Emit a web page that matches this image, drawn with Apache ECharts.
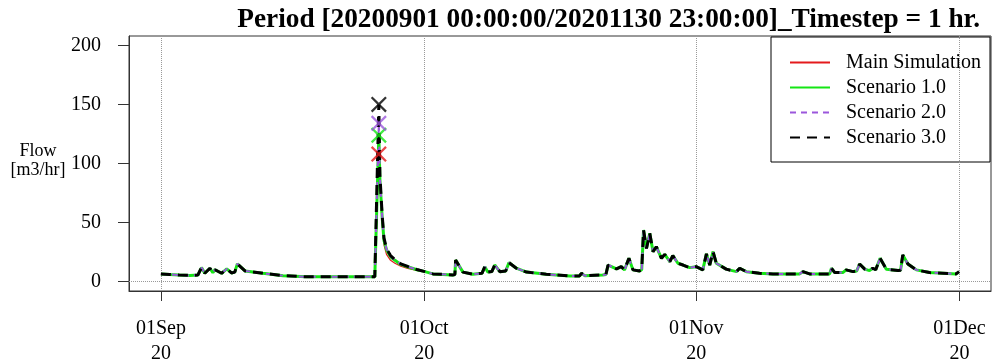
<!DOCTYPE html>
<html>
<head>
<meta charset="utf-8">
<script src="https://cdn.jsdelivr.net/npm/echarts@6/dist/echarts.min.js"></script>
<style>
  html, body { margin: 0; padding: 0; background: #fff; }
  #flow { width: 993px; height: 360px; }
</style>
</head>
<body>
<div id="flow"></div>
<script>
// hours since 01Sep2020 00:00 -> flow [m3/hr], shared by all runs outside the big event
var baseHours = [0, 24, 50, 79, 101, 111, 120, 134, 142, 148, 166, 180, 193, 202, 209, 230, 279, 334, 398, 489, 585,
    722, 744, 798, 804, 806, 826, 853, 878, 886, 894, 905, 913, 927, 943, 952, 972, 1000, 1054, 1118, 1145, 1150, 1159,
    1208, 1217, 1223, 1246, 1259, 1268, 1280, 1291, 1309, 1315, 1320, 1328, 1337, 1346, 1355, 1369, 1378, 1392, 1400,
    1414, 1428, 1446, 1464, 1482, 1487, 1492, 1501, 1510, 1519, 1546, 1574, 1583, 1601, 1637, 1674, 1747, 1756, 1774,
    1829, 1834, 1843, 1865, 1874, 1893, 1903, 1911, 1925, 1938, 1947, 1955, 1967, 1984, 2016, 2023, 2029, 2043, 2066,
    2102, 2175, 2183];
var baseFlow = [6.5, 6, 5.5, 5.2, 5.5, 11.8, 7, 11.3, 7.5, 10, 7, 10.7, 7.3, 8, 15, 9, 7, 5, 4, 4, 4,
    8.4, 6.5, 5.6, 6, 18.3, 8, 6.2, 7, 12.6, 8, 8.5, 14, 8.4, 9, 16, 11.3, 8, 6.2, 4.8, 4.8, 7, 5,
    5.6, 6, 14, 10.7, 12.6, 9.9, 19.7, 9.9, 9, 10, 43.6, 28, 40.8, 25.3, 29.5, 19.7, 23, 16.9, 22,
    15.5, 14, 11.8, 12.6, 9.9, 11, 23.4, 14, 25.3, 15.5, 10.5, 8.4, 11.3, 8.4, 7, 6.5, 6.5, 8.4, 6.5,
    6.5, 11.3, 7.6, 7.6, 9.9, 8.4, 9, 14.9, 10.5, 9.3, 11.3, 10, 19.7, 10.5, 9.3, 9.5, 22.5, 14.9, 9.9,
    7.6, 6.5, 8.4];

// the late-September event, where the runs differ
var eventHours = [590, 596, 599, 605, 610, 617, 628, 640, 656, 675, 700];
var eventMain = [5, 108, 80, 50, 31, 23, 18, 15.5, 13, 11.2, 9.5];
var eventS1 = [5, 124, 86, 55, 35, 27, 21, 18, 14.5, 12.5, 10];
var eventS2 = [5, 134, 88, 56, 36, 27.5, 21.5, 18.3, 14.8, 12.6, 10];
var eventS3 = [5, 150, 90, 57, 37, 28, 22, 18.5, 15, 12.8, 10.2];

var seriesNames = ['Main Simulation', 'Scenario 1.0', 'Scenario 2.0', 'Scenario 3.0'];
var yTicks = [0, 50, 100, 150, 200];
var xTickHours = [0, 720, 1464, 2184];
var xTickLabels = ['01Sep\n20', '01Oct\n20', '01Nov\n20', '01Dec\n20'];
var titleText = 'Period [20200901 00:00:00/20201130 23:00:00]_Timestep = 1 hr.';

var serif = 'Liberation Serif';
var crossPath = 'path://M0,1L1,0L5,4L9,0L10,1L6,5L10,9L9,10L5,6L1,10L0,9L4,5Z';

function build(eventVals) {
    var pts = [];
    for (var i = 0; i < baseHours.length; i++) pts.push([baseHours[i], baseFlow[i]]);
    for (var j = 0; j < eventHours.length; j++) pts.push([eventHours[j], eventVals[j]]);
    pts.sort(function (a, b) { return a[0] - b[0]; });
    return pts;
}

function peakOf(pts) {
    var best = pts[0];
    for (var i = 1; i < pts.length; i++) if (pts[i][1] > best[1]) best = pts[i];
    return best;
}

var runs = [
    {data: build(eventMain), color: '#e41a1c', width: 1.2, type: 'solid'},
    {data: build(eventS1), color: '#14e614', width: 3, type: 'solid'},
    {data: build(eventS2), color: '#9b57dc', width: 2, type: [6, 5]},
    {data: build(eventS3), color: '#000000', width: 3, type: [10, 7]}
];

var flowChart = echarts.init(document.getElementById('flow'));

var series = [];
runs.forEach(function (r, k) {
    series.push({
        name: seriesNames[k],
        type: 'line',
        data: r.data,
        symbol: 'none',
        animation: false,
        lineStyle: {color: r.color, width: r.width, type: r.type},
        itemStyle: {color: r.color},
        markLine: k === 0 ? {
            silent: true,
            symbol: 'none',
            label: {show: false},
            lineStyle: {color: '#999', type: 'dotted', width: 1},
            data: xTickHours.map(function (h) { return {xAxis: h}; }).concat([{yAxis: 0}])
        } : undefined,
        z: 2 + k
    });
});
runs.forEach(function (r, k) {
    series.push({
        name: seriesNames[k] + ' peak',
        type: 'scatter',
        data: [peakOf(r.data)],
        symbol: crossPath,
        symbolSize: 16,
        animation: false,
        itemStyle: {color: r.color},
        z: 10
    });
});

option = {
    animation: false,
    backgroundColor: '#fff',
    title: {
        text: titleText,
        right: 8,
        top: 1,
        textStyle: {fontFamily: serif, fontWeight: 'bold', fontSize: 27.3, color: '#000'}
    },
    grid: {
        left: 129,
        right: 2,
        top: 36,
        bottom: 69,
        outerBoundsMode: 'none',
        containLabel: false,
        show: true,
        borderColor: '#333',
        borderWidth: 1,
        backgroundColor: 'transparent'
    },
    legend: {
        data: seriesNames,
        orient: 'vertical',
        right: 3,
        top: 37,
        align: 'left',
        backgroundColor: '#fff',
        borderColor: '#000',
        borderWidth: 1,
        borderRadius: 0,
        padding: [13, 9, 12, 18],
        itemGap: 0,
        itemWidth: 40,
        itemHeight: 14,
        itemStyle: {opacity: 0},
        textStyle: {fontFamily: serif, fontSize: 20, color: '#000', lineHeight: 25, padding: [0, 0, 0, 11]}
    },
    graphic: [{
        type: 'text',
        x: 38,
        y: 161,
        style: {
            text: 'Flow\n[m3/hr]',
            fontFamily: serif,
            fontSize: 18,
            lineHeight: 19,
            align: 'center',
            verticalAlign: 'middle',
            fill: '#000'
        }
    }],
    xAxis: {
        type: 'value',
        min: -87.3,
        max: 2270.3,
        axisLine: {show: true, onZero: false, lineStyle: {color: '#333'}},
        axisTick: {show: true, length: 10, customValues: xTickHours, lineStyle: {color: '#333'}},
        axisLabel: {
            customValues: xTickHours,
            margin: 25,
            fontFamily: serif,
            fontSize: 20,
            lineHeight: 25,
            color: '#000',
            formatter: function (v) { return xTickLabels[xTickHours.indexOf(v)] || ''; }
        },
        splitLine: {show: false}
    },
    yAxis: {
        type: 'value',
        min: -8,
        max: 208,
        axisLine: {show: true, onZero: false, lineStyle: {color: '#333'}},
        axisTick: {show: true, length: 11, customValues: yTicks, lineStyle: {color: '#333'}},
        axisLabel: {
            customValues: yTicks,
            margin: 28,
            fontFamily: serif,
            fontSize: 20,
            color: '#000'
        },
        splitLine: {show: false}
    },
    series: series
};
flowChart.setOption(option);
</script>
</body>
</html>
